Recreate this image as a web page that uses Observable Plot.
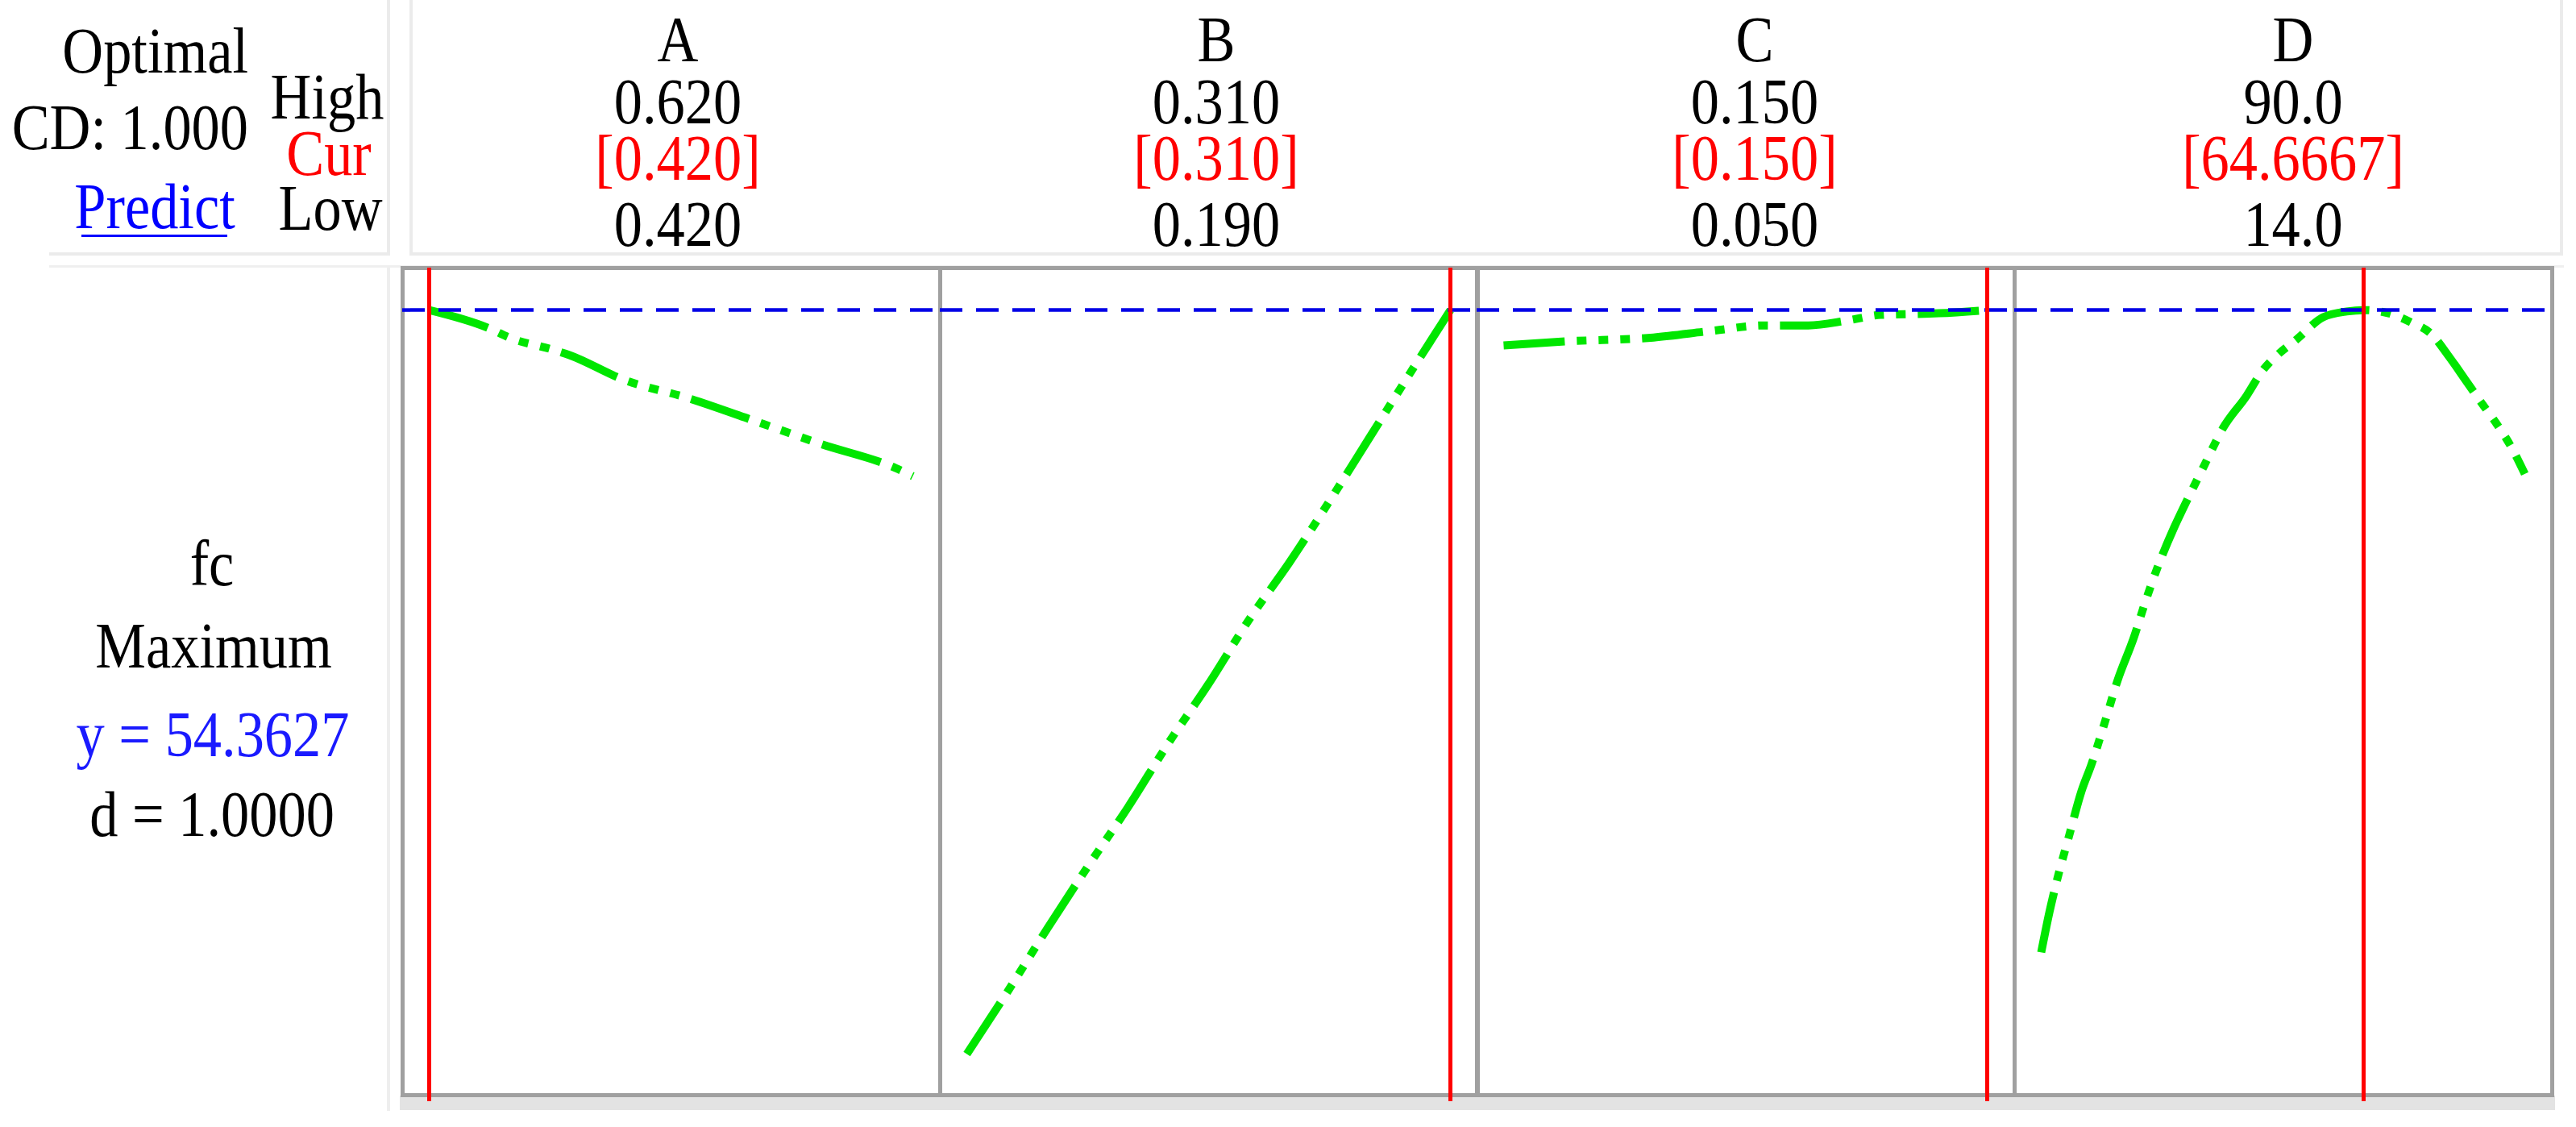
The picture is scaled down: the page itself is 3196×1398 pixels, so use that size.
<!DOCTYPE html>
<html>
<head>
<meta charset="utf-8">
<script src="https://cdn.jsdelivr.net/npm/d3@7"></script>
<script src="https://cdn.jsdelivr.net/npm/@observablehq/plot@0.6"></script>
<style>
  html, body { margin: 0; padding: 0; background: #ffffff; }
  #page { position: relative; width: 3196px; height: 1398px; overflow: hidden; background: #fff; }
  .abs { position: absolute; }
</style>
</head>
<body>
<div id="page"></div>
<script>
// ---------------- data ----------------
const factors = ["A", "B", "C", "D"];
const highs = [0.620, 0.310, 0.150, 90.0];
const lows = [0.420, 0.190, 0.050, 14.0];
const currents = [0.420, 0.310, 0.150, 64.6667];
const highLabels = ["0.620", "0.310", "0.150", "90.0"];
const curLabels = ["[0.420]", "[0.310]", "[0.150]", "[64.6667]"];
const lowLabels = ["0.420", "0.190", "0.050", "14.0"];

const response = "fc";
const goal = "Maximum";
const predicted = 54.3627;
const desirability = 1.0000;
const combinedD = 1.000;

// one-factor curves of fc
const aX = [0.420, 0.445, 0.453, 0.471, 0.478, 0.500, 0.527, 0.558, 0.582, 0.613, 0.620];
const aY = [54.36, 53.55, 53.16, 52.63, 52.39, 51.33, 50.51, 49.38, 48.50, 47.44, 47.09];

const bX = [0.19, 0.20, 0.21, 0.22, 0.23, 0.24, 0.25, 0.26, 0.27, 0.28, 0.29, 0.30, 0.31];
const bY = [21.8, 24.5, 27.3, 30.0, 32.6, 35.4, 38.0, 40.8, 43.3, 46.0, 48.8, 51.6, 54.36];

const cX = [0.050, 0.063, 0.081, 0.093, 0.104, 0.113, 0.121, 0.128, 0.140, 0.150];
const cY = [52.81, 52.99, 53.16, 53.45, 53.69, 53.69, 53.90, 54.15, 54.22, 54.36];

const dX = [14.0, 15.3, 16.5, 18.4, 20.3, 21.9, 23.8, 26.0, 28.6, 30.3, 32.0, 34.8, 36.3, 39.6, 42.6, 46.3, 48.7, 51.1, 54.2, 58.3, 62.0, 64.6667, 68.6, 72.3, 75.2, 78.2, 80.6, 83.0, 85.4, 87.8, 90.0];
const dY = [26.25, 28.02, 29.43, 31.37, 33.28, 34.48, 36.14, 38.15, 40.06, 41.54, 42.89, 44.79, 45.68, 47.55, 49.21, 50.62, 51.68, 52.39, 53.09, 54.05, 54.30, 54.36, 54.22, 53.80, 53.34, 52.28, 51.33, 50.37, 49.45, 48.40, 47.19];

const curveXs = [aX, bX, cX, dX];
const curveYs = [aY, bY, cY, dY];
const yDomain = [20, 56.2];

// ---------------- layout (styles only) ----------------
const page = document.getElementById("page");
const panelLeft = 499, panelW = 666.5, panelTop = 332, panelH = 1026;
const FONT = 80, SX = 0.88;
const FAMILY = "'Liberation Serif', 'DejaVu Serif', serif";

function box(x, y, w, h, color) {
  const d = document.createElement("div");
  d.className = "abs";
  Object.assign(d.style, {left: x + "px", top: y + "px", width: w + "px", height: h + "px", background: color});
  page.appendChild(d);
}
const light = "#ebebeb";
box(480, 0, 4, 316, light);
box(61, 313, 423, 4, light);
box(508, 0, 4, 316, light);
box(3176, 0, 4, 316, light);
box(508, 313, 2672, 4, light);
box(61, 329, 3120, 3, "#efefef");
box(480, 332, 4, 1046, "#eeeeee");
box(496, 1359, 2674, 18, "#e3e3e3");

// ---------------- panels ----------------
factors.forEach((f, i) => {
  const data = curveXs[i].map((x, k) => ({x, y: curveYs[i][k]}));
  const w = Math.round(panelW);
  const chart = Plot.plot({
    width: w,
    height: panelH,
    margin: 0,
    x: {domain: [lows[i], highs[i]], insetLeft: 33, insetRight: 34, axis: null},
    y: {domain: yDomain, axis: null},
    style: {background: "transparent", overflow: "visible"},
    marks: [
      Plot.frame({stroke: "#a0a0a0", strokeWidth: 5}),
      Plot.line(data, {x: "x", y: "y", stroke: "#00e600", strokeWidth: 10,
        strokeDasharray: "76,15,12,15,12,15,12,15", curve: "monotone-x", strokeLinecap: "butt"}),
      Plot.ruleY([predicted], {stroke: "#0000e6", strokeWidth: 4.5, strokeDasharray: "28,17"}),
      Plot.ruleX([currents[i]], {stroke: "#ff0000", strokeWidth: 5, insetBottom: -8})
    ]
  });
  chart.classList.add("abs");
  chart.style.left = Math.round(panelLeft + i * panelW) + "px";
  chart.style.top = panelTop + "px";
  chart.style.maxWidth = "none";
  page.appendChild(chart);
});

// ---------------- text overlay ----------------
const svg = d3.select(page).append("svg")
  .attr("class", "abs")
  .attr("width", 3196).attr("height", 1398)
  .style("left", "0px").style("top", "0px")
  .style("pointer-events", "none");

function txt(s, x, y, anchor, color) {
  return svg.append("text")
    .attr("transform", `translate(${x},${y}) scale(${SX},1)`)
    .attr("text-anchor", anchor)
    .attr("font-family", FAMILY)
    .attr("font-size", FONT)
    .attr("fill", color)
    .text(s);
}

// left header
txt("Optimal", 308, 90, "end", "#000");
txt(`CD: ${combinedD.toFixed(3)}`, 308, 185, "end", "#000");
txt("Predict", 192, 283, "middle", "#0000ff");
svg.append("rect").attr("x", 101).attr("y", 291).attr("width", 181).attr("height", 3).attr("fill", "#0000ff");
txt("High", 406, 147, "middle", "#000");
txt("Cur", 408, 217, "middle", "#ff0000");
txt("Low", 410, 285, "middle", "#000");

// factor columns
factors.forEach((f, i) => {
  const cx = 841 + i * 668;
  txt(f, cx, 76, "middle", "#000");
  txt(highLabels[i], cx, 153, "middle", "#000");
  txt(curLabels[i], cx, 223, "middle", "#ff0000");
  txt(lowLabels[i], cx, 305, "middle", "#000");
});

// response label
txt(response, 263, 726, "middle", "#000");
txt(goal, 265, 828, "middle", "#000");
txt(`y = ${predicted.toFixed(4)}`, 264, 938, "middle", "#1a1aff");
txt(`d = ${desirability.toFixed(4)}`, 263, 1037, "middle", "#000");
</script>
</body>
</html>
